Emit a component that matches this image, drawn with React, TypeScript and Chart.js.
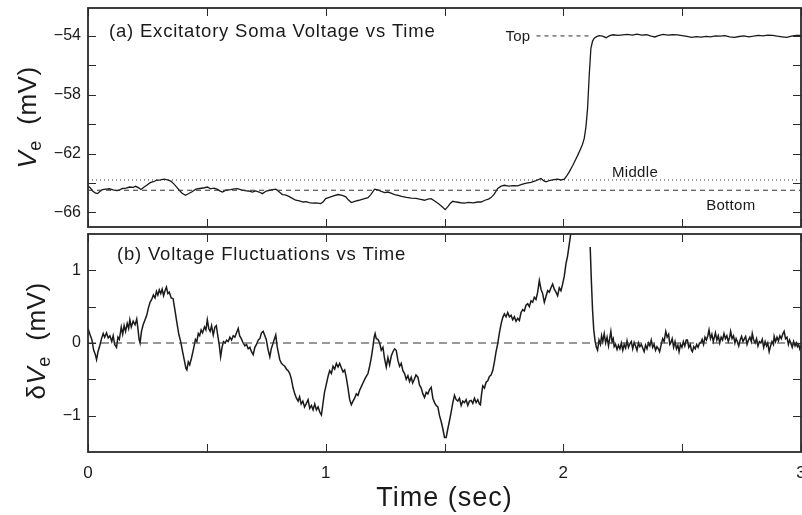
import React, { useEffect, useRef } from "react";
import { Chart, registerables } from "chart.js";

Chart.register(...registerables);

// ---------- data ----------
const TIME_TICKS = [0, 1, 2, 3];
const TIME_MINOR = [0.5, 1.5, 2.5];
const VE_TICKS = [-66, -62, -58, -54];
const VE_MINOR = [-64, -60, -56];
const DV_TICKS = [-1, 0, 1];
const DV_MINOR = [-0.5, 0.5];

const VE_RANGE = [-67, -52.1];
const DV_RANGE = [-1.5, 1.5];
const TIME_RANGE = [0, 3];

const TOP_LEVEL = -54;
const MIDDLE_LEVEL = -63.8;
const BOTTOM_LEVEL = -64.5;
const ZERO_LEVEL = 0;
const TOP_MARK_SPAN = [1.887, 2.12];

const PANEL_TITLES = ["(a) Excitatory Soma Voltage vs Time", "(b) Voltage Fluctuations vs Time"];
const LEVEL_LABELS = ["Top", "Middle", "Bottom"];

// excitatory soma voltage [time (s), mV]
const VE_SAMPLES: [number, number][] = [
  [0.0, -64.21], [0.01, -64.35], [0.02, -64.55], [0.03, -64.68], [0.04, -64.73], [0.05, -64.58],
  [0.06, -64.46], [0.076, -64.43], [0.09, -64.4], [0.105, -64.48], [0.12, -64.52], [0.13, -64.5],
  [0.145, -64.38], [0.16, -64.36], [0.175, -64.28], [0.19, -64.3], [0.2, -64.23], [0.212, -64.32],
  [0.223, -64.45], [0.235, -64.3], [0.25, -64.12], [0.262, -63.98], [0.275, -63.92], [0.29, -63.82],
  [0.305, -63.8], [0.32, -63.75], [0.335, -63.8], [0.35, -63.89], [0.362, -64.08], [0.374, -64.3],
  [0.384, -64.5], [0.396, -64.7], [0.41, -64.84], [0.422, -64.74], [0.436, -64.62], [0.454, -64.43],
  [0.47, -64.38], [0.49, -64.33], [0.503, -64.28], [0.515, -64.4], [0.53, -64.35], [0.545, -64.44],
  [0.556, -64.56], [0.566, -64.62], [0.58, -64.5], [0.6, -64.46], [0.615, -64.4], [0.629, -64.39],
  [0.645, -64.48], [0.66, -64.52], [0.675, -64.55], [0.692, -64.62], [0.705, -64.55], [0.72, -64.62],
  [0.734, -64.73], [0.75, -64.55], [0.765, -64.5], [0.778, -64.46], [0.79, -64.43], [0.8, -64.55],
  [0.818, -64.79], [0.83, -64.82], [0.845, -64.92], [0.86, -65.05], [0.874, -65.18], [0.89, -65.22],
  [0.905, -65.3], [0.918, -65.28], [0.93, -65.34], [0.945, -65.38], [0.96, -65.36], [0.979, -65.41],
  [0.99, -65.28], [1.0, -65.07], [1.015, -64.98], [1.03, -64.9], [1.052, -64.79], [1.07, -64.85],
  [1.085, -64.95], [1.095, -65.15], [1.108, -65.34], [1.125, -65.24], [1.14, -65.18], [1.16, -65.08],
  [1.178, -65.0], [1.19, -64.8], [1.206, -64.43], [1.22, -64.48], [1.234, -64.58], [1.248, -64.66],
  [1.262, -64.62], [1.275, -64.7], [1.29, -64.79], [1.305, -64.85], [1.32, -64.92], [1.34, -64.98],
  [1.36, -65.03], [1.38, -65.05], [1.4, -65.12], [1.416, -65.18], [1.43, -65.1], [1.444, -65.07],
  [1.46, -65.25], [1.475, -65.42], [1.49, -65.62], [1.503, -65.82], [1.515, -65.6], [1.525, -65.38],
  [1.535, -65.25], [1.55, -65.3], [1.568, -65.35], [1.584, -65.37], [1.6, -65.33], [1.62, -65.36],
  [1.64, -65.3], [1.654, -65.3], [1.67, -65.18], [1.685, -65.1], [1.696, -65.0], [1.71, -64.75],
  [1.724, -64.38], [1.738, -64.22], [1.752, -64.16], [1.77, -64.22], [1.79, -64.18], [1.808, -64.2],
  [1.825, -64.1], [1.845, -64.02], [1.864, -63.97], [1.885, -63.85], [1.906, -63.7], [1.917, -63.85],
  [1.927, -63.93], [1.945, -63.82], [1.96, -63.78], [1.976, -63.75], [1.99, -63.8], [2.004, -63.75],
  [2.015, -63.5], [2.025, -63.25], [2.04, -62.8], [2.055, -62.3], [2.067, -61.89], [2.08, -61.4],
  [2.088, -60.97], [2.095, -60.2], [2.102, -58.93], [2.109, -56.66], [2.116, -54.84], [2.123, -54.35],
  [2.13, -54.16], [2.14, -54.05], [2.151, -53.98], [2.165, -54.02], [2.18, -54.12], [2.195, -53.98],
  [2.21, -53.92], [2.23, -53.96], [2.25, -53.93], [2.27, -53.9], [2.29, -53.94], [2.31, -53.88],
  [2.33, -53.95], [2.35, -53.92], [2.37, -54.02], [2.385, -54.07], [2.4, -53.98], [2.42, -53.9],
  [2.44, -53.95], [2.46, -53.92], [2.48, -53.93], [2.5, -53.98], [2.52, -54.03], [2.54, -54.1],
  [2.56, -54.05], [2.58, -54.08], [2.6, -54.03], [2.62, -54.06], [2.64, -54.0], [2.66, -54.02],
  [2.68, -53.98], [2.7, -54.06], [2.72, -54.1], [2.74, -54.04], [2.76, -54.0], [2.78, -54.06],
  [2.8, -54.02], [2.82, -53.96], [2.84, -54.0], [2.86, -53.94], [2.88, -53.96], [2.9, -54.02],
  [2.92, -54.06], [2.94, -54.1], [2.96, -54.02], [2.98, -53.97], [3.0, -53.97],
];

// voltage fluctuations [time (s), mV]; null = trace leaves the panel
const DV_SAMPLES: [number, number | null][] = [
  [0.0, 0.2], [0.008, 0.12], [0.016, 0.05], [0.024, -0.1], [0.03, -0.15], [0.036, -0.23], [0.042, -0.12],
  [0.05, -0.03], [0.057, 0.06], [0.064, 0.13], [0.07, 0.08], [0.078, 0.14], [0.085, 0.07], [0.092, 0.1],
  [0.1, 0.02], [0.106, 0.1], [0.112, -0.02], [0.12, -0.06], [0.126, 0.08], [0.132, 0.05], [0.14, 0.22],
  [0.146, 0.12], [0.152, 0.24], [0.158, 0.16], [0.165, 0.27], [0.171, 0.2], [0.176, 0.32], [0.182, 0.22],
  [0.19, 0.3], [0.198, 0.25], [0.205, 0.33], [0.21, 0.2], [0.215, 0.05], [0.219, 0.0], [0.225, 0.16],
  [0.232, 0.25], [0.24, 0.32], [0.247, 0.38], [0.254, 0.48], [0.261, 0.56], [0.268, 0.6], [0.275, 0.66],
  [0.282, 0.62], [0.288, 0.71], [0.294, 0.66], [0.3, 0.73], [0.306, 0.68], [0.312, 0.74], [0.318, 0.65],
  [0.324, 0.72], [0.33, 0.77], [0.336, 0.68], [0.342, 0.7], [0.35, 0.62], [0.358, 0.61], [0.366, 0.45],
  [0.374, 0.28], [0.382, 0.12], [0.39, 0.02], [0.398, -0.12], [0.406, -0.25], [0.412, -0.35], [0.416, -0.37],
  [0.422, -0.26], [0.428, -0.3], [0.436, -0.2], [0.444, -0.08], [0.452, 0.05], [0.458, 0.02], [0.464, 0.13],
  [0.47, 0.1], [0.476, 0.18], [0.482, 0.14], [0.49, 0.22], [0.496, 0.18], [0.502, 0.32], [0.508, 0.2],
  [0.514, 0.16], [0.52, 0.24], [0.527, 0.11], [0.534, 0.22], [0.54, 0.24], [0.546, 0.1], [0.552, -0.02],
  [0.558, -0.19], [0.564, -0.06], [0.57, 0.02], [0.577, 0.0], [0.583, 0.04], [0.59, 0.02], [0.597, 0.08],
  [0.604, 0.04], [0.611, 0.1], [0.618, 0.08], [0.625, 0.14], [0.632, 0.2], [0.638, 0.1], [0.645, 0.06],
  [0.653, 0.0], [0.66, -0.04], [0.667, -0.02], [0.674, -0.08], [0.681, -0.06], [0.688, -0.12], [0.695, -0.16],
  [0.702, -0.06], [0.709, -0.02], [0.716, 0.04], [0.723, 0.06], [0.73, 0.14], [0.737, 0.16], [0.744, 0.1],
  [0.75, 0.05], [0.757, -0.08], [0.765, -0.19], [0.771, -0.08], [0.777, -0.02], [0.783, 0.04], [0.79, 0.11],
  [0.796, -0.05], [0.802, -0.15], [0.807, -0.23], [0.814, -0.28], [0.82, -0.3], [0.828, -0.32], [0.835, -0.36],
  [0.842, -0.38], [0.849, -0.42], [0.856, -0.5], [0.863, -0.62], [0.87, -0.7], [0.877, -0.76], [0.884, -0.8],
  [0.89, -0.74], [0.897, -0.84], [0.904, -0.8], [0.911, -0.88], [0.919, -0.83], [0.926, -0.78], [0.933, -0.9],
  [0.94, -0.86], [0.947, -0.92], [0.954, -0.84], [0.961, -0.92], [0.968, -0.88], [0.975, -0.95], [0.982, -0.99],
  [0.988, -0.85], [0.995, -0.68], [1.002, -0.58], [1.01, -0.46], [1.017, -0.38], [1.024, -0.42], [1.031, -0.32],
  [1.038, -0.36], [1.045, -0.28], [1.052, -0.33], [1.059, -0.28], [1.066, -0.34], [1.073, -0.4], [1.08, -0.37],
  [1.087, -0.48], [1.094, -0.62], [1.101, -0.78], [1.108, -0.85], [1.115, -0.8], [1.122, -0.76], [1.129, -0.7],
  [1.136, -0.72], [1.143, -0.65], [1.15, -0.6], [1.157, -0.55], [1.164, -0.5], [1.171, -0.46], [1.178, -0.42],
  [1.185, -0.32], [1.192, -0.2], [1.199, -0.05], [1.204, 0.08], [1.208, 0.13], [1.213, 0.06], [1.22, 0.05],
  [1.227, 0.0], [1.234, -0.1], [1.241, -0.06], [1.248, -0.22], [1.255, -0.33], [1.262, -0.2], [1.269, -0.3],
  [1.276, -0.18], [1.283, -0.12], [1.29, -0.08], [1.297, -0.1], [1.304, -0.24], [1.311, -0.32], [1.318, -0.28],
  [1.325, -0.38], [1.332, -0.42], [1.339, -0.5], [1.346, -0.45], [1.353, -0.53], [1.36, -0.47], [1.366, -0.55],
  [1.373, -0.5], [1.38, -0.44], [1.388, -0.47], [1.395, -0.58], [1.402, -0.62], [1.409, -0.7], [1.416, -0.75],
  [1.423, -0.68], [1.43, -0.7], [1.437, -0.64], [1.444, -0.61], [1.451, -0.76], [1.458, -0.82], [1.465, -0.86],
  [1.472, -0.88], [1.479, -1.0], [1.486, -1.08], [1.493, -1.18], [1.5, -1.3], [1.507, -1.3], [1.514, -1.18],
  [1.521, -1.07], [1.528, -0.95], [1.535, -0.82], [1.542, -0.72], [1.549, -0.78], [1.556, -0.8], [1.563, -0.76],
  [1.57, -0.86], [1.577, -0.8], [1.584, -0.82], [1.591, -0.78], [1.598, -0.86], [1.605, -0.8], [1.612, -0.79],
  [1.619, -0.83], [1.626, -0.76], [1.633, -0.82], [1.64, -0.78], [1.647, -0.84], [1.651, -0.85], [1.656, -0.7],
  [1.661, -0.59], [1.668, -0.62], [1.675, -0.54], [1.682, -0.52], [1.689, -0.46], [1.696, -0.44], [1.703, -0.38],
  [1.71, -0.26], [1.717, -0.12], [1.724, -0.01], [1.731, 0.14], [1.738, 0.26], [1.745, 0.35], [1.752, 0.4],
  [1.759, 0.36], [1.766, 0.42], [1.773, 0.36], [1.78, 0.38], [1.787, 0.32], [1.794, 0.36], [1.801, 0.3],
  [1.808, 0.34], [1.815, 0.31], [1.822, 0.42], [1.829, 0.46], [1.836, 0.44], [1.843, 0.52], [1.85, 0.54],
  [1.857, 0.5], [1.864, 0.58], [1.871, 0.56], [1.878, 0.63], [1.885, 0.6], [1.892, 0.7], [1.899, 0.86],
  [1.906, 0.74], [1.913, 0.68], [1.92, 0.56], [1.927, 0.64], [1.934, 0.72], [1.941, 0.7], [1.948, 0.76],
  [1.955, 0.81], [1.962, 0.74], [1.969, 0.7], [1.976, 0.65], [1.983, 0.76], [1.99, 0.72], [1.997, 0.81],
  [2.004, 0.92], [2.011, 1.09], [2.018, 1.2], [2.025, 1.36], [2.032, 1.52], [2.04, 1.8], [2.07, null],
  [2.113, 1.32], [2.118, 0.85], [2.123, 0.45], [2.128, 0.18], [2.134, 0.02], [2.139, -0.06], [2.144, -0.1],
  [2.15, 0.04], [2.156, -0.02], [2.161, 0.1], [2.166, 0.02], [2.172, 0.13], [2.178, 0.0], [2.184, 0.08],
  [2.19, -0.04], [2.195, 0.06], [2.2, 0.16], [2.205, 0.02], [2.21, 0.06], [2.214, -0.05], [2.22, -0.02],
  [2.226, -0.09], [2.232, -0.03], [2.238, -0.08], [2.244, 0.0], [2.25, -0.1], [2.256, -0.02], [2.262, -0.07],
  [2.268, 0.03], [2.274, -0.06], [2.28, -0.01], [2.286, 0.02], [2.292, -0.08], [2.298, 0.01], [2.304, -0.04],
  [2.31, -0.1], [2.316, 0.0], [2.322, -0.05], [2.328, -0.02], [2.334, -0.07], [2.34, -0.12], [2.346, -0.03],
  [2.352, -0.08], [2.358, 0.0], [2.364, -0.04], [2.37, 0.04], [2.376, -0.06], [2.382, -0.02], [2.388, -0.1],
  [2.394, -0.05], [2.4, -0.08], [2.405, -0.12], [2.412, -0.02], [2.418, 0.06], [2.424, 0.02], [2.431, 0.16],
  [2.437, 0.08], [2.443, 0.12], [2.448, -0.02], [2.452, 0.0], [2.458, 0.06], [2.464, -0.06], [2.47, 0.02],
  [2.476, -0.08], [2.482, -0.03], [2.487, -0.12], [2.493, -0.02], [2.499, -0.06], [2.505, 0.02], [2.511, -0.04],
  [2.517, 0.04], [2.522, 0.04], [2.528, -0.06], [2.534, -0.02], [2.539, -0.1], [2.543, -0.12], [2.549, -0.05],
  [2.555, -0.08], [2.561, -0.02], [2.567, -0.06], [2.573, 0.0], [2.578, 0.0], [2.584, 0.05], [2.59, -0.02],
  [2.596, 0.08], [2.602, 0.04], [2.608, 0.1], [2.613, 0.18], [2.619, 0.06], [2.625, 0.12], [2.631, 0.02],
  [2.634, 0.06], [2.64, 0.14], [2.646, 0.04], [2.652, 0.1], [2.658, 0.0], [2.664, 0.08], [2.67, 0.04],
  [2.676, 0.13], [2.682, 0.06], [2.688, 0.1], [2.694, 0.02], [2.7, 0.08], [2.704, 0.16], [2.71, 0.06],
  [2.716, 0.1], [2.722, 0.0], [2.727, 0.06], [2.732, 0.02], [2.738, -0.04], [2.744, 0.04], [2.75, 0.09],
  [2.756, 0.02], [2.762, 0.06], [2.767, 0.09], [2.773, -0.02], [2.779, 0.04], [2.785, 0.08], [2.791, 0.02],
  [2.795, 0.13], [2.801, 0.04], [2.807, 0.0], [2.813, 0.06], [2.819, -0.04], [2.825, 0.02], [2.831, 0.0],
  [2.837, 0.05], [2.843, -0.06], [2.849, 0.02], [2.855, -0.04], [2.86, 0.0], [2.866, -0.12], [2.872, -0.04],
  [2.878, 0.02], [2.884, -0.02], [2.887, 0.09], [2.893, 0.02], [2.899, 0.08], [2.905, 0.03], [2.911, 0.1],
  [2.917, 0.06], [2.923, 0.12], [2.929, 0.16], [2.935, 0.06], [2.941, 0.08], [2.947, -0.02], [2.952, 0.04],
  [2.957, 0.0], [2.963, -0.06], [2.969, 0.02], [2.975, -0.04], [2.98, 0.0], [2.985, -0.05], [2.99, -0.02],
  [2.995, -0.08], [3.0, -0.03],
];

// ---------- styling / layout ----------
const FONT = '"Liberation Sans", Arial, Helvetica, sans-serif';
const INK = "#1a1a1a";
const FRAME = "#2a2a2a";
const W = 802;
const TOP_H = 230;
const BOT_H = 285;
const PLOT_LEFT = 88;

const fmtTick = (v: number) => (v < 0 ? "\u2212" + String(Math.abs(v)) : String(v));

function hline(x0: number, x1: number, y: number) {
  return [{ x: x0, y }, { x: x1, y }];
}

function drawSpaced(ctx: CanvasRenderingContext2D, text: string, x: number, y: number, font: string, spacing: number, align: CanvasTextAlign = "left") {
  ctx.save();
  ctx.font = font;
  (ctx as any).letterSpacing = spacing + "px";
  ctx.textAlign = align;
  ctx.textBaseline = "alphabetic";
  ctx.fillStyle = INK;
  ctx.fillText(text, x, y);
  ctx.restore();
}

function drawYLabel(ctx: CanvasRenderingContext2D, baseX: number, centerY: number, prefix: string, size: number) {
  const segs = [
    { t: prefix, f: `${size}px ${FONT}`, dy: 0 },
    { t: "V", f: `italic ${size}px ${FONT}`, dy: 0 },
    { t: "e", f: `${Math.round(size * 0.7)}px ${FONT}`, dy: size * 0.2 },
    { t: "  (mV)", f: `${size}px ${FONT}`, dy: 0 },
  ];
  ctx.save();
  ctx.translate(baseX, centerY);
  ctx.rotate(-Math.PI / 2);
  ctx.fillStyle = INK;
  ctx.textBaseline = "alphabetic";
  ctx.textAlign = "left";
  (ctx as any).letterSpacing = "0.5px";
  let total = 0;
  const widths = segs.map((s) => {
    ctx.font = s.f;
    const w = ctx.measureText(s.t).width;
    total += w;
    return w;
  });
  let x = -total / 2;
  segs.forEach((s, i) => {
    ctx.font = s.f;
    ctx.fillText(s.t, x, s.dy);
    x += widths[i];
  });
  ctx.restore();
}

function framePlugin(xMarks: number[], yMarks: number[], extra: (chart: any) => void) {
  return {
    id: "frameTicks",
    afterDraw(chart: any) {
      const { ctx, chartArea: a, scales } = chart;
      const xs = scales.x;
      const ys = scales.y;
      const L = 8;
      ctx.save();
      ctx.strokeStyle = FRAME;
      ctx.lineWidth = 1;
      ctx.beginPath();
      xMarks.forEach((t) => {
        const px = Math.round(xs.getPixelForValue(t)) + 0.5;
        ctx.moveTo(px, a.bottom);
        ctx.lineTo(px, a.bottom - L);
        ctx.moveTo(px, a.top);
        ctx.lineTo(px, a.top + L);
      });
      yMarks.forEach((v) => {
        const py = Math.round(ys.getPixelForValue(v)) + 0.5;
        ctx.moveTo(a.left, py);
        ctx.lineTo(a.left + L, py);
        ctx.moveTo(a.right, py);
        ctx.lineTo(a.right - L, py);
      });
      ctx.stroke();
      ctx.lineWidth = 1.8;
      ctx.strokeRect(a.left, a.top, a.right - a.left, a.bottom - a.top);
      ctx.restore();
      extra(chart);
    },
  };
}

function yAxis(range: number[], ticks: number[]) {
  return {
    type: "linear",
    min: range[0],
    max: range[1],
    grid: { display: false, drawTicks: false },
    border: { display: false },
    ticks: {
      color: INK,
      font: { family: FONT, size: 16 },
      padding: 7,
      autoSkip: false,
      callback: (v: number) => fmtTick(v),
    },
    afterBuildTicks: (s: any) => {
      s.ticks = ticks.map((v) => ({ value: v }));
    },
    afterFit: (s: any) => {
      s.width = PLOT_LEFT;
      s.paddingTop = 0;
      s.paddingBottom = 0;
    },
  };
}

const traceStyle = {
  borderColor: INK,
  pointRadius: 0,
  tension: 0,
  spanGaps: false,
};

export default function App() {
  const topRef = useRef<HTMLCanvasElement>(null);
  const botRef = useRef<HTMLCanvasElement>(null);

  useEffect(() => {
    const topChart = new Chart(topRef.current as HTMLCanvasElement, {
      type: "line",
      data: {
        datasets: [
          { data: hline(TIME_RANGE[0], TIME_RANGE[1], MIDDLE_LEVEL), borderColor: "#333", borderWidth: 1, borderDash: [1, 3], pointRadius: 0 },
          { data: hline(TIME_RANGE[0], TIME_RANGE[1], BOTTOM_LEVEL), borderColor: "#333", borderWidth: 1, borderDash: [5, 4], pointRadius: 0 },
          { data: hline(TOP_MARK_SPAN[0], TOP_MARK_SPAN[1], TOP_LEVEL), borderColor: "#333", borderWidth: 1, borderDash: [4, 4], pointRadius: 0 },
          { data: VE_SAMPLES.map(([t, v]) => ({ x: t, y: v })), borderWidth: 1.3, ...traceStyle },
        ] as any,
      },
      options: {
        responsive: false,
        animation: false,
        devicePixelRatio: 1,
        events: [],
        layout: { padding: { left: 0, top: 8, right: 1, bottom: 3 } },
        plugins: { legend: { display: false }, tooltip: { enabled: false } },
        scales: {
          x: { type: "linear", min: TIME_RANGE[0], max: TIME_RANGE[1], display: false },
          y: yAxis(VE_RANGE, VE_TICKS),
        } as any,
      },
      plugins: [
        framePlugin([...TIME_TICKS, ...TIME_MINOR], [...VE_TICKS, ...VE_MINOR], (chart: any) => {
          const { ctx, chartArea: a, scales } = chart;
          const xs = scales.x;
          const ys = scales.y;
          drawSpaced(ctx, PANEL_TITLES[0], 109, 36.5, `18.5px ${FONT}`, 0.8);
          drawSpaced(ctx, LEVEL_LABELS[0], xs.getPixelForValue(TOP_MARK_SPAN[0]) - 6, ys.getPixelForValue(TOP_LEVEL) + 5, `15px ${FONT}`, 0.3, "right");
          drawSpaced(ctx, LEVEL_LABELS[1], xs.getPixelForValue(2.205), ys.getPixelForValue(MIDDLE_LEVEL) - 3, `15px ${FONT}`, 0.3);
          drawSpaced(ctx, LEVEL_LABELS[2], xs.getPixelForValue(2.601), ys.getPixelForValue(BOTTOM_LEVEL) + 20, `15px ${FONT}`, 0.3);
          drawYLabel(ctx, 36, (a.top + a.bottom) / 2, "", 26);
        }),
      ] as any,
    });

    const botChart = new Chart(botRef.current as HTMLCanvasElement, {
      type: "line",
      data: {
        datasets: [
          { data: hline(TIME_RANGE[0], TIME_RANGE[1], ZERO_LEVEL), borderColor: "#333", borderWidth: 1, borderDash: [8, 5], pointRadius: 0 },
          { data: DV_SAMPLES.map(([t, v]) => ({ x: t, y: v })), borderWidth: 1.5, ...traceStyle },
        ] as any,
      },
      options: {
        responsive: false,
        animation: false,
        devicePixelRatio: 1,
        events: [],
        layout: { padding: { left: 0, top: 4, right: 1, bottom: 0 } },
        plugins: { legend: { display: false }, tooltip: { enabled: false } },
        scales: {
          x: {
            type: "linear",
            min: TIME_RANGE[0],
            max: TIME_RANGE[1],
            grid: { display: false, drawTicks: false },
            border: { display: false },
            ticks: {
              color: INK,
              font: { family: FONT, size: 17 },
              padding: 11,
              autoSkip: false,
              maxRotation: 0,
              callback: (v: number) => fmtTick(v),
            },
            afterBuildTicks: (s: any) => {
              s.ticks = TIME_TICKS.map((v) => ({ value: v }));
            },
            afterFit: (s: any) => {
              s.height = 63;
              s.paddingLeft = 0;
              s.paddingRight = 0;
            },
          },
          y: yAxis(DV_RANGE, DV_TICKS),
        } as any,
      },
      plugins: [
        framePlugin([...TIME_TICKS, ...TIME_MINOR], [...DV_TICKS, ...DV_MINOR], (chart: any) => {
          const { ctx, chartArea: a } = chart;
          drawSpaced(ctx, PANEL_TITLES[1], 117, 30, `18.5px ${FONT}`, 0.8);
          drawYLabel(ctx, 45, (a.top + a.bottom) / 2 - 2, "\u03b4", 26);
          drawSpaced(ctx, "Time (sec)", (a.left + a.right) / 2, 276, `27px ${FONT}`, 1, "center");
        }),
      ] as any,
    });

    return () => {
      topChart.destroy();
      botChart.destroy();
    };
  }, []);

  return (
    <div style={{ position: "fixed", left: 0, top: 0, width: W, height: TOP_H + BOT_H, background: "#fff" }}>
      <canvas ref={topRef} width={W} height={TOP_H} style={{ position: "absolute", left: 0, top: 0, width: W, height: TOP_H }} />
      <canvas ref={botRef} width={W} height={BOT_H} style={{ position: "absolute", left: 0, top: TOP_H, width: W, height: BOT_H }} />
    </div>
  );
}
